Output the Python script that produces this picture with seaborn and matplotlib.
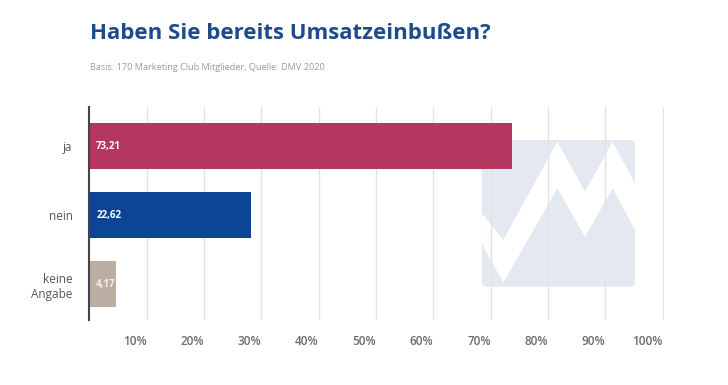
import numpy as np
import pandas as pd
import seaborn as sns
import matplotlib.pyplot as plt
from matplotlib.patches import FancyBboxPatch, Polygon

# Data
answers = ['ja', 'nein', 'keine\nAngabe']
bar_lengths = [73.7, 28.2, 4.6]          # bar ends as drawn in the original
value_labels = ['73,21', '22,62', '4,17']  # labels printed on the bars
ticks = [10, 20, 30, 40, 50, 60, 70, 80, 90, 100]

df = pd.DataFrame({'Antwort': answers, 'Anteil': bar_lengths})

bar_colors = {
    'ja': '#B3375F',
    'nein': '#0B4594',
    'keine\nAngabe': '#B9AEA1',
}
label_colors = ['white', 'white', '#F3EEE8']

sns.set_theme(style='white')
plt.rcParams['font.family'] = ['Open Sans', 'DejaVu Sans']

fig = plt.figure(figsize=(7.28, 3.85), dpi=100)
ax = fig.add_axes([89.3 / 728, 1 - 320 / 385, (664 - 89.3) / 728, (320 - 107) / 385])
ax.set_facecolor('none')

# faint logo watermark behind the plot (pixel coords -> inches)
def px(x, y):
    return (x / 100, (385 - y) / 100)

x0, y0 = px(481.7, 286.7)
logo_bg = FancyBboxPatch((x0, y0), (635 - 481.7) / 100, (286.7 - 140) / 100,
                         boxstyle='round,pad=0,rounding_size=0.04',
                         transform=fig.dpi_scale_trans, fc='#E4E9F1', ec='none', zorder=-2)
fig.add_artist(logo_bg)
zig = [(35, 250), (100, 330), (262, 35), (345, 185), (428, 35), (495, 160),
       (495, 300), (428, 175), (345, 320), (262, 175), (100, 458), (35, 340)]
zig_px = [px(470 + zx / 3, 130 + zy / 3) for zx, zy in zig]
fig.add_artist(Polygon(zig_px, closed=True, transform=fig.dpi_scale_trans,
                       fc='white', ec='none', zorder=-1))

sns.barplot(data=df, x='Anteil', y='Antwort', hue='Antwort', palette=bar_colors,
            legend=False, width=0.667, ax=ax, zorder=3, saturation=1, linewidth=0)

for i, (lab, col) in enumerate(zip(value_labels, label_colors)):
    ax.text(1.2, i, lab, color=col, fontsize=7, fontweight='bold',
            va='center', ha='left', zorder=4)

ax.set_xlim(0, 100.2)
ax.set_ylim(2.52, -0.565)
ax.set_xticks(ticks)
ax.set_xticklabels([f'{t}%' for t in ticks], ha='right', fontsize=8.5,
                   fontweight='semibold', color='#6B6B6B')
ax.tick_params(axis='x', length=0, pad=11)
ax.tick_params(axis='y', length=0, pad=12, labelsize=8.5, labelcolor='#555555')
ax.grid(axis='x', color='#E2E2E2', lw=1, zorder=0)
ax.set_axisbelow(True)
ax.set_xlabel('')
ax.set_ylabel('')
for s in ['top', 'right', 'bottom']:
    ax.spines[s].set_visible(False)
ax.spines['left'].set_color('#444444')
ax.spines['left'].set_linewidth(1.5)
ax.spines['left'].set_zorder(5)

fig.text(90 / 728, 1 - 39 / 385, 'Haben Sie bereits Umsatzeinbußen?',
         fontsize=16, fontweight='bold', color='#1D4B8B', va='baseline', ha='left')
fig.text(90 / 728, 1 - 70 / 385, 'Basis: 170 Marketing Club Mitglieder, Quelle: DMV 2020',
         fontsize=6.6, color='#9A9A9A', va='baseline', ha='left')

fig.savefig('out.png', dpi=100)
